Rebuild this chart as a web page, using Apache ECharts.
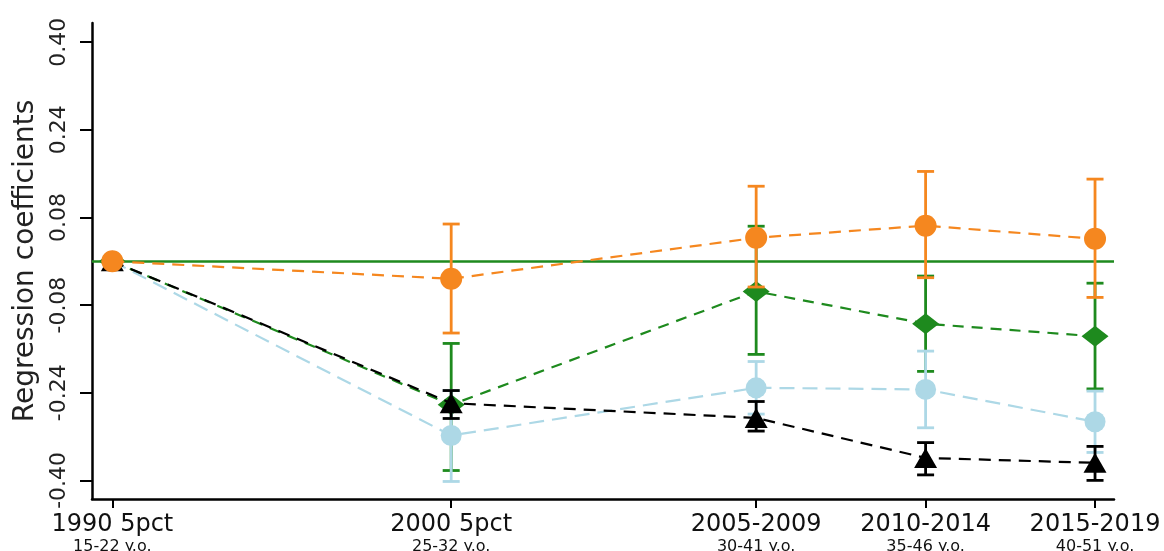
<!DOCTYPE html>
<html>
<head>
<meta charset="utf-8">
<script src="https://cdn.jsdelivr.net/npm/echarts@6/dist/echarts.min.js"></script>
<style>html,body{margin:0;padding:0;background:#fff}#c{width:1164px;height:551px}</style>
</head>
<body>
<div id="c"></div>
<script>
// ---- data ----
const xValues = [1990, 2000, 2009, 2014, 2019];
const periodLabels = ['1990 5pct', '2000 5pct', '2005-2009', '2010-2014', '2015-2019'];
const ageLabels = ['15-22 y.o.', '25-32 y.o.', '30-41 y.o.', '35-46 y.o.', '40-51 y.o.'];
const yTicks = [-0.40, -0.24, -0.08, 0.08, 0.24, 0.40];

const orangeCoef = [0, -0.032, 0.043, 0.065, 0.041];
const orangeLow  = [0, -0.131, -0.047, -0.030, -0.066];
const orangeHigh = [0, 0.068, 0.137, 0.164, 0.150];

const greenCoef = [0, -0.262, -0.055, -0.114, -0.137];
const greenLow  = [0, -0.382, -0.170, -0.201, -0.233];
const greenHigh = [0, -0.150, 0.064, -0.027, -0.040];

const blueCoef = [0, -0.318, -0.231, -0.234, -0.293];
const blueLow  = [0, -0.402, -0.279, -0.304, -0.349];
const blueHigh = [0, -0.236, -0.183, -0.164, -0.237];

const blackCoef = [0, -0.259, -0.286, -0.359, -0.368];
const blackLow  = [0, -0.287, -0.310, -0.390, -0.400];
const blackHigh = [0, -0.236, -0.256, -0.331, -0.338];

const ORANGE = '#F5871F', GREEN = '#1E8A1E', BLUE = '#ADD8E6', BLACK = '#000000';

function pts(coef) { return xValues.map((x, i) => [x, coef[i]]); }
function ci(low, high) {
  const out = [];
  xValues.forEach((x, i) => { if (i > 0) out.push([x, low[i], high[i]]); });
  return out;
}
function capSeries(name, low, high, color, z) {
  return {
    type: 'custom', name: name, z: z,
    data: ci(low, high),
    encode: { x: 0, y: [1, 2] },
    renderItem: function (params, api) {
      const x = api.value(0);
      const lo = api.coord([x, api.value(1)]);
      const hi = api.coord([x, api.value(2)]);
      const w = 8.5;
      const st = { stroke: color, lineWidth: 2.8 };
      return {
        type: 'group',
        children: [
          { type: 'line', shape: { x1: lo[0], y1: lo[1], x2: hi[0], y2: hi[1] }, style: st },
          { type: 'line', shape: { x1: lo[0] - w, y1: lo[1], x2: lo[0] + w, y2: lo[1] }, style: st },
          { type: 'line', shape: { x1: hi[0] - w, y1: hi[1], x2: hi[0] + w, y2: hi[1] }, style: st }
        ]
      };
    }
  };
}
function lineSeries(name, coef, color, symbol, size, dash, z) {
  return {
    type: 'line', name: name, z: z,
    data: pts(coef),
    symbol: symbol, symbolSize: size, showAllSymbol: true,
    itemStyle: { color: color },
    lineStyle: { color: color, width: 2.2, type: dash },
    animation: false
  };
}

const chart = echarts.init(document.getElementById('c'), null, { renderer: 'canvas' });
chart.setOption({
  animation: false,
  backgroundColor: '#ffffff',
  grid: { left: 92, right: 50, top: 23, bottom: 52, containLabel: false, outerBoundsMode: 'none' },
  xAxis: {
    type: 'value', min: 1989.4, max: 2019.56,
    splitLine: { show: false },
    axisLine: { show: true, onZero: false, lineStyle: { color: '#000', width: 2.5 } },
    axisTick: { show: true, length: 9, lineStyle: { color: '#000', width: 2 }, customValues: xValues },
    axisLabel: {
      customValues: xValues, margin: 12, color: '#111',
      fontFamily: 'DejaVu Sans',
      formatter: function (v) {
        const i = xValues.indexOf(Math.round(v));
        return i < 0 ? '' : '{a|' + periodLabels[i] + '}\n{b|' + ageLabels[i] + '}';
      },
      rich: {
        a: { fontSize: 24, lineHeight: 28, fontFamily: 'DejaVu Sans', color: '#111' },
        b: { fontSize: 16, lineHeight: 16, fontFamily: 'DejaVu Sans', color: '#111' }
      }
    }
  },
  yAxis: {
    type: 'value', min: -0.434, max: 0.435,
    name: 'Regression coefficients', nameLocation: 'middle', nameRotate: 90, nameGap: 48,
    nameTextStyle: { fontSize: 28, fontFamily: 'DejaVu Sans', color: '#222' },
    splitLine: { show: false },
    axisLine: { show: true, onZero: false, lineStyle: { color: '#000', width: 2.5 } },
    axisTick: { show: true, length: 12, lineStyle: { color: '#000', width: 2 }, customValues: yTicks },
    axisLabel: {
      customValues: yTicks, rotate: 90, margin: 22, fontSize: 22, fontFamily: 'DejaVu Sans', color: '#222',
      formatter: function (v) { return v.toFixed(2); }
    }
  },
  series: [
    {
      type: 'line', name: 'zero', data: [], z: 1,
      markLine: {
        silent: true, symbol: ['none', 'none'], label: { show: false },
        lineStyle: { color: GREEN, width: 2.6, type: 'solid' },
        data: [{ yAxis: 0 }], animation: false
      }
    },
    capSeries('green ci', greenLow, greenHigh, GREEN, 2),
    lineSeries('green', greenCoef, GREEN, 'diamond', [27, 21], [11, 8], 3),
    capSeries('blue ci', blueLow, blueHigh, BLUE, 4),
    lineSeries('blue', blueCoef, BLUE, 'circle', 21, [15, 8], 5),
    capSeries('black ci', blackLow, blackHigh, BLACK, 6),
    lineSeries('black', blackCoef, BLACK, 'triangle', [23, 20], [12, 8], 7),
    capSeries('orange ci', orangeLow, orangeHigh, ORANGE, 8),
    lineSeries('orange', orangeCoef, ORANGE, 'circle', 22, [12, 8], 9)
  ]
});
</script>
</body>
</html>
